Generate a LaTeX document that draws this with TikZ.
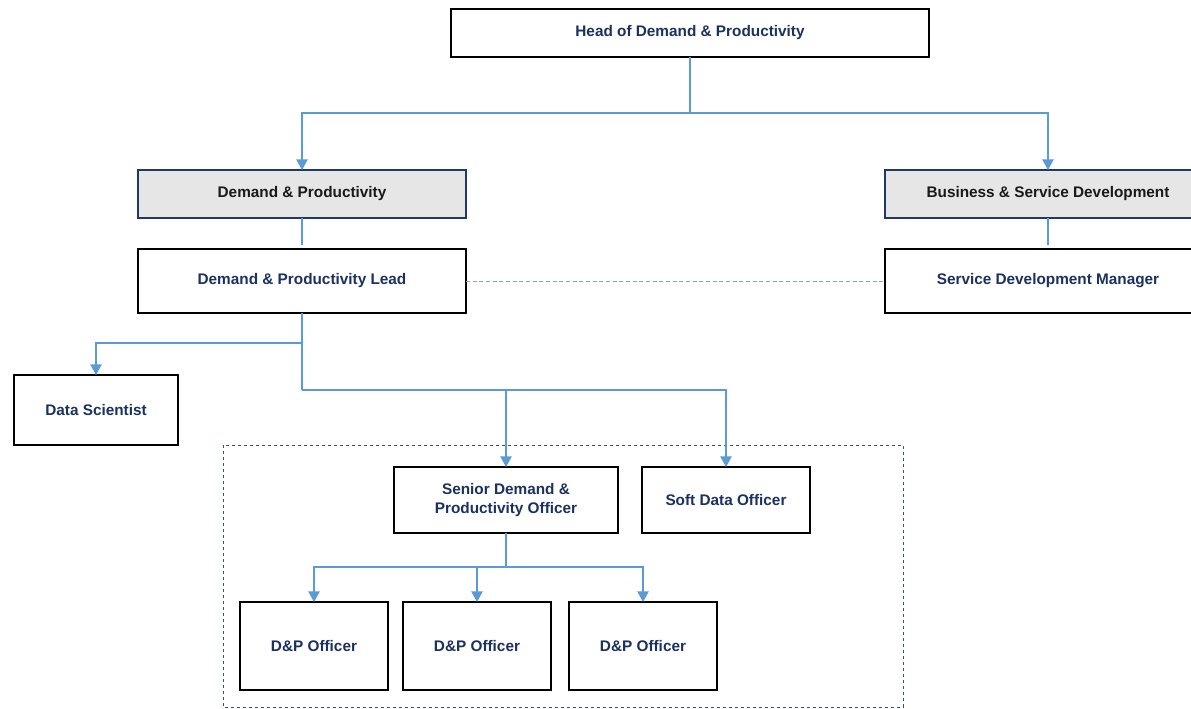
\documentclass[tikz,border=0pt]{standalone}
\usepackage{fontspec}
\setmainfont{Liberation Sans}
\usetikzlibrary{arrows.meta}
\definecolor{navytext}{HTML}{1B3160}
\definecolor{navyborder}{HTML}{1F3864}
\definecolor{grayfill}{HTML}{E6E6E6}
\definecolor{lblue}{HTML}{5B9BD5}
\definecolor{dashblue}{HTML}{7FA3CF}
\definecolor{rectblue}{HTML}{2F4F8F}
\begin{document}
\begin{tikzpicture}[x=0.75pt,y=-0.75pt,
  wbox/.style={draw=black, line width=1.5pt, fill=white, text=navytext,
    font=\fontsize{11.5}{14.25}\selectfont\bfseries, align=center, inner sep=0pt, outer sep=0pt},
  gbox/.style={draw=navyborder, line width=1.5pt, fill=grayfill, text=black!90,
    font=\fontsize{11.5}{14.25}\selectfont\bfseries, align=center, inner sep=0pt, outer sep=0pt},
  conn/.style={draw=lblue, line width=1.1pt},
  arr/.style={conn, -{Triangle[width=8.5pt,length=8pt]}}]
\useasboundingbox (0,0) rectangle (1191,708);
\clip (0,0) rectangle (1191,708);
\fill[white] (0,0) rectangle (1191,708);

\draw[rectblue, line width=0.6pt, dash pattern=on 2.5pt off 2pt] (223,445) rectangle (903,707);

\node[wbox, minimum width=358.5pt, minimum height=36pt] (head) at (690,33) {Head of Demand \& Productivity};
\node[gbox, minimum width=246pt, minimum height=36pt] (dp) at (302,194) {Demand \& Productivity};
\node[gbox, minimum width=244.5pt, minimum height=36pt] (bsd) at (1048,194) {Business \& Service Development};
\node[wbox, minimum width=246pt, minimum height=48pt] (lead) at (302,281) {Demand \& Productivity Lead};
\node[wbox, minimum width=244.5pt, minimum height=48pt] (sdm) at (1048,281) {Service Development Manager};
\node[wbox, minimum width=123pt, minimum height=52.5pt] (ds) at (96,410) {Data Scientist};
\node[wbox, minimum width=168pt, minimum height=49.5pt] (senior) at (506,500) {Senior Demand \&\\Productivity Officer};
\node[wbox, minimum width=126pt, minimum height=49.5pt] (soft) at (726,500) {Soft Data Officer};
\node[wbox, minimum width=111pt, minimum height=66pt] (dp1) at (314,646) {D\&P Officer};
\node[wbox, minimum width=111pt, minimum height=66pt] (dp2) at (477,646) {D\&P Officer};
\node[wbox, minimum width=111pt, minimum height=66pt] (dp3) at (643,646) {D\&P Officer};

\coordinate (h1) at (690,113);
\draw[conn] (head.south) -- (h1);
\draw[arr] (h1) -| (dp.north);
\draw[arr] (h1) -| (bsd.north);

\draw[conn, shorten >=3pt] (dp.south) -- (lead.north);
\draw[conn, shorten >=3pt] (bsd.south) -- (sdm.north);

\draw[dashblue, line width=0.75pt, dash pattern=on 3pt off 2pt] (lead.east) -- (sdm.west);

\coordinate (l1) at (302,343);
\coordinate (l2) at (302,390);
\draw[conn] (lead.south) -- (l2);
\draw[arr] (l1) -| (ds.north);
\draw[arr] (l2) -| (senior.north);
\draw[arr] (l2) -| (soft.north);

\coordinate (s1) at (506,567);
\draw[conn] (senior.south) -- (s1);
\draw[arr] (s1) -| (dp1.north);
\draw[arr] (s1) -| (dp2.north);
\draw[arr] (s1) -| (dp3.north);
\end{tikzpicture}
\end{document}
